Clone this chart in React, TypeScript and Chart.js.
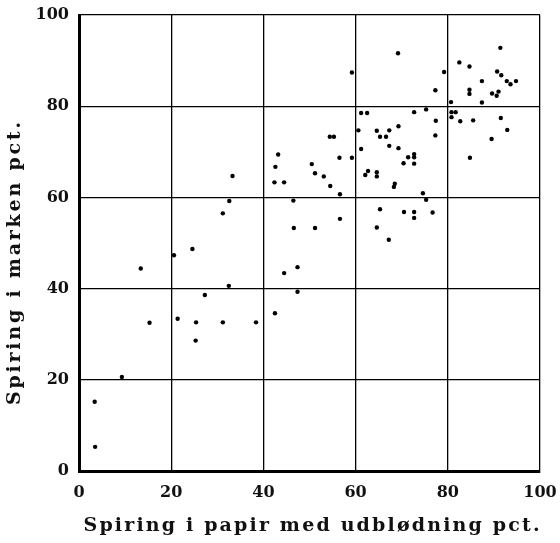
import React, { useEffect, useRef } from "react";
import { Chart, registerables } from "chart.js";

Chart.register(...registerables);

// Spiring i papir med udblødning pct. (x) vs Spiring i marken pct. (y)
const paperPct = [
  43.2, 42.6, 33.3, 42.4, 44.5, 32.6, 46.5, 31.2, 46.6, 24.6,
  20.6, 13.4, 44.5, 47.4, 32.5, 27.3, 47.4, 42.5, 15.3, 21.4,
  25.4, 31.2, 38.4, 25.3, 9.3, 3.4, 3.5, 91.4, 69.2, 82.5,
  84.7, 59.2, 79.2, 90.7, 91.6, 87.4, 92.8, 93.6, 94.8, 77.3,
  84.7, 84.7, 89.6, 91.0, 90.6, 80.7, 87.4, 61.2, 62.5, 72.7,
  75.3, 77.4, 80.8, 81.7, 80.8, 82.7, 85.5, 91.5, 92.9, 89.5,
  84.8, 69.3, 60.6, 64.6, 67.3, 65.3, 66.6, 77.3, 54.4, 55.3,
  67.3, 61.2, 69.3, 72.7, 72.7, 71.4, 56.5, 59.2, 70.4, 72.7,
  50.5, 51.2, 53.1, 62.7, 62.1, 64.6, 64.6, 54.5, 56.6, 68.5,
  68.3, 74.6, 75.3, 65.3, 70.5, 72.7, 72.7, 76.7, 56.6, 51.2,
  64.6, 67.2,
];
const fieldPct = [
  69.4, 66.7, 64.7, 63.3, 63.3, 59.2, 59.3, 56.5, 53.3, 48.7,
  47.3, 44.4, 43.4, 44.7, 40.6, 38.6, 39.3, 34.6, 32.5, 33.4,
  32.6, 32.6, 32.6, 28.6, 20.6, 15.2, 5.3, 92.8, 91.6, 89.6,
  88.7, 87.4, 87.5, 87.6, 86.8, 85.5, 85.5, 84.8, 85.5, 83.5,
  83.6, 82.7, 82.8, 83.2, 82.3, 80.9, 80.8, 78.5, 78.5, 78.7,
  79.3, 76.8, 78.7, 78.7, 77.6, 76.7, 76.9, 77.4, 74.8, 72.8,
  68.7, 75.6, 74.7, 74.6, 74.7, 73.3, 73.3, 73.6, 73.3, 73.3,
  71.3, 70.6, 70.8, 69.5, 68.8, 68.8, 68.7, 68.7, 67.5, 67.4,
  67.3, 65.3, 64.6, 65.8, 64.9, 65.5, 64.6, 62.5, 60.7, 63.0,
  62.3, 60.9, 59.5, 57.4, 56.8, 56.8, 55.5, 56.7, 55.3, 53.3,
  53.4, 50.7,
];
const xTitle = "Spiring i papir med udblødning pct.";
const yTitle = "Spiring i marken pct.";
const axisMin = 0;
const axisMax = 100;
const tickStep = 20;

const FONT_FAMILY = '"DejaVu Serif", "Liberation Serif", serif';

const titlePlugin = {
  id: "spacedTitles",
  afterDraw(chart: any) {
    const ctx = chart.ctx as CanvasRenderingContext2D;
    const area = chart.chartArea;
    const spaceTo = (text: string, target: number) => {
      (ctx as any).letterSpacing = "0px";
      const w = ctx.measureText(text).width;
      const s = Math.max(0, (target - w) / (text.length - 1));
      (ctx as any).letterSpacing = `${s}px`;
    };
    ctx.save();
    ctx.fillStyle = "#111";
    ctx.font = `bold 19px ${FONT_FAMILY}`;
    ctx.textAlign = "left";
    ctx.textBaseline = "alphabetic";
    // x title
    const xw = 456;
    spaceTo(xTitle, xw);
    const xc = (area.left + area.right) / 2 + 2;
    ctx.fillText(xTitle, xc - xw / 2, 531);
    // y title
    const yw = 283;
    spaceTo(yTitle, yw);
    ctx.translate(20, 405);
    ctx.rotate(-Math.PI / 2);
    ctx.fillText(yTitle, 0, 0);
    ctx.restore();
    (ctx as any).letterSpacing = "0px";
  },
};

const zeroPad = (s: any) => {
  s.paddingLeft = 0;
  s.paddingRight = 0;
  s.paddingTop = 0;
  s.paddingBottom = 0;
};

export default function App() {
  const ref = useRef<HTMLCanvasElement | null>(null);
  useEffect(() => {
    if (!ref.current) return;
    const points = paperPct.map((x, i) => ({ x, y: fieldPct[i] }));
    const tickFont = { family: FONT_FAMILY, size: 16, weight: "bold" as const };
    const chart = new Chart(ref.current, {
      type: "scatter",
      data: {
        datasets: [
          {
            data: points,
            backgroundColor: "#000",
            borderColor: "#000",
            pointRadius: 2.2,
            pointBorderWidth: 0,
          },
        ],
      },
      options: {
        animation: false,
        responsive: false,
        maintainAspectRatio: false,
        layout: { padding: { top: 15, right: 20, left: 0, bottom: 0 } },
        plugins: { legend: { display: false }, tooltip: { enabled: false } },
        scales: {
          x: {
            type: "linear",
            min: axisMin,
            max: axisMax,
            ticks: { stepSize: tickStep, color: "#111", font: tickFont, padding: 12 },
            grid: { color: "#000", lineWidth: 1.3, drawTicks: false },
            border: { color: "#000", width: 3 },
            afterFit: (scale: any) => {
              scale.height = 72;
              zeroPad(scale);
            },
          },
          y: {
            type: "linear",
            min: axisMin,
            max: axisMax,
            ticks: { stepSize: tickStep, color: "#111", font: tickFont, padding: 10 },
            grid: { color: "#000", lineWidth: 1.3, drawTicks: false },
            border: { color: "#000", width: 3 },
            afterFit: (scale: any) => {
              scale.width = 79;
              zeroPad(scale);
            },
          },
        },
      },
      plugins: [titlePlugin],
    });
    return () => chart.destroy();
  }, []);
  return (
    <div style={{ position: "absolute", left: 0, top: 0, width: 560, height: 543, background: "#fff" }}>
      <canvas ref={ref} width={560} height={543} style={{ width: 560, height: 543 }} />
    </div>
  );
}
